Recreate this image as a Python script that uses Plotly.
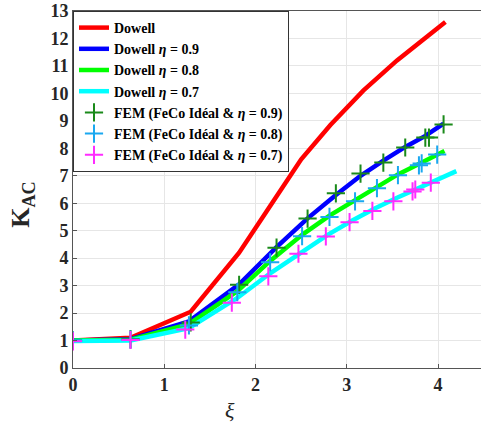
import plotly.graph_objects as go

# Dowell curves
x_dowell = [0, 0.63, 1.29, 1.82, 2.2, 2.5, 2.82, 3.18, 3.55, 4.08]
y_dowell = [1.0, 1.1, 2.05, 4.2, 6.1, 7.6, 8.85, 10.1, 11.2, 12.6]

x_d09 = [0, 0.63, 1.27, 1.82, 2.23, 2.57, 2.88, 3.15, 3.40, 3.64, 3.86, 4.06]
y_d09 = [1.0, 1.05, 1.7, 3.05, 4.4, 5.45, 6.3, 7.0, 7.55, 8.05, 8.45, 8.9]

x_d08 = [0, 0.63, 1.27, 1.80, 2.16, 2.51, 2.81, 3.09, 3.33, 3.56, 3.80, 4.07]
y_d08 = [1.0, 1.03, 1.6, 2.8, 3.9, 4.85, 5.55, 6.1, 6.6, 7.05, 7.45, 7.9]

x_d07 = [0, 0.63, 1.27, 1.80, 2.16, 2.49, 2.79, 3.05, 3.30, 3.55, 3.78, 4.20]
y_d07 = [0.98, 1.0, 1.45, 2.55, 3.45, 4.2, 4.85, 5.35, 5.8, 6.2, 6.55, 7.17]

# FEM points
x_f09 = [0, 0.63, 1.29, 1.82, 2.23, 2.57, 2.88, 3.15, 3.40, 3.64, 3.86, 3.90, 4.06]
y_f09 = [1.0, 1.05, 1.66, 3.03, 4.38, 5.44, 6.36, 7.08, 7.48, 8.03, 8.39, 8.39, 8.87]

x_f08 = [0, 0.63, 1.27, 1.80, 2.16, 2.51, 2.81, 3.09, 3.33, 3.56, 3.79, 3.82, 3.99]
y_f08 = [1.0, 1.03, 1.55, 2.76, 3.85, 4.80, 5.50, 6.07, 6.55, 7.02, 7.38, 7.45, 7.77]

x_f07 = [0, 0.63, 1.23, 1.74, 2.14, 2.47, 2.77, 3.03, 3.28, 3.51, 3.72, 3.75, 3.92]
y_f07 = [0.97, 1.02, 1.40, 2.38, 3.34, 4.16, 4.79, 5.31, 5.72, 6.07, 6.43, 6.50, 6.75]

x_ticks = [0, 1, 2, 3, 4]
y_ticks = list(range(0, 14))

FONT = "Liberation Serif"

fig = go.Figure()
lw = 4.5
fig.add_trace(go.Scatter(x=x_dowell, y=y_dowell, mode="lines", line=dict(color="#ff0000", width=lw),
                         name="<b>Dowell</b>"))
fig.add_trace(go.Scatter(x=x_d09, y=y_d09, mode="lines", line=dict(color="#0000ff", width=lw),
                         name="<b>Dowell <i>η</i> = 0.9</b>"))
fig.add_trace(go.Scatter(x=x_d08, y=y_d08, mode="lines", line=dict(color="#00ff00", width=lw),
                         name="<b>Dowell <i>η</i> = 0.8</b>"))
fig.add_trace(go.Scatter(x=x_d07, y=y_d07, mode="lines", line=dict(color="#00ffff", width=lw),
                         name="<b>Dowell <i>η</i> = 0.7</b>"))

ms = 13
fig.add_trace(go.Scatter(x=x_f09, y=y_f09, mode="markers",
                         marker=dict(symbol="cross-thin", size=ms, line=dict(color="#1a8a1a", width=2)),
                         name="<b>FEM (FeCo Idéal & <i>η</i> = 0.9)</b>"))
fig.add_trace(go.Scatter(x=x_f08, y=y_f08, mode="markers",
                         marker=dict(symbol="cross-thin", size=ms, line=dict(color="#1aa8f0", width=2)),
                         name="<b>FEM (FeCo Idéal & <i>η</i> = 0.8)</b>"))
fig.add_trace(go.Scatter(x=x_f07, y=y_f07, mode="markers",
                         marker=dict(symbol="cross-thin", size=ms, line=dict(color="#ff2cff", width=2)),
                         name="<b>FEM (FeCo Idéal & <i>η</i> = 0.7)</b>"))

fig.update_layout(
    width=481, height=425,
    margin=dict(l=73, r=0, t=11, b=57),
    paper_bgcolor="white", plot_bgcolor="white",
    font=dict(family=FONT, color="#262626"),
    legend=dict(x=0.0, y=1.0, xanchor="left", yanchor="top",
                bgcolor="white", bordercolor="#333333", borderwidth=1,
                font=dict(family=FONT, size=14, color="#000000"),
                tracegroupgap=0, itemwidth=30),
    xaxis=dict(range=[0, 4.47], tickvals=x_ticks, ticktext=[str(v) for v in x_ticks],
               showgrid=True, gridcolor="#e6e6e6", gridwidth=1,
               showline=True, linecolor="#555555", linewidth=1, mirror=True,
               ticks="inside", ticklen=4, tickcolor="#555555",
               tickfont=dict(family=FONT, size=18, weight="bold", color="#262626"),
               automargin=False, zeroline=False),
    yaxis=dict(range=[0, 13], tickvals=y_ticks, ticktext=[str(v) for v in y_ticks],
               showgrid=True, gridcolor="#e6e6e6", gridwidth=1,
               showline=True, linecolor="#555555", linewidth=1,
               ticks="inside", ticklen=4, tickcolor="#555555",
               tickfont=dict(family=FONT, size=18, weight="bold", color="#262626"),
               automargin=False, zeroline=False),
    showlegend=True,
    annotations=[
        dict(text="<i>ξ</i>", xref="paper", yref="paper", x=0.385, y=-0.118,
             xanchor="center", yanchor="middle", showarrow=False,
             font=dict(family=FONT, size=22, color="#262626")),
        dict(text="<b>K<sub>AC</sub></b>", xref="paper", yref="paper", x=-0.125, y=0.457,
             xanchor="center", yanchor="middle", showarrow=False, textangle=-90,
             font=dict(family=FONT, size=26, color="#262626")),
    ],
)

# remove the default 8px page margin so the figure fills the window exactly
fig.write_html("out.html", config={"displayModeBar": False},
               post_script="document.body.style.margin='0px';document.body.style.overflow='hidden';")
